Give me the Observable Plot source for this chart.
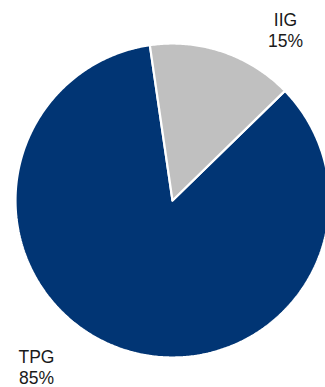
<!DOCTYPE html>
<html>
<head>
<meta charset="utf-8">
<script src="https://cdn.jsdelivr.net/npm/d3@7"></script>
<script src="https://cdn.jsdelivr.net/npm/@observablehq/plot@0.6"></script>
<style>
  html, body { margin: 0; padding: 0; background: #fff; overflow: hidden; }
  #chart svg { display: block; overflow: hidden; }
</style>
</head>
<body>
<div id="chart"></div>
<script>
// Data
const categories = ["TPG", "IIG"];
const shares = [85, 15];
const valueLabels = ["85%", "15%"];
const colors = ["#013574", "#c0c0c0"];

// Layout (style, not data)
const startDeg = 45.7; // where the first slice begins, clockwise from 12 o'clock

const pie = d3.pie().sort(null).value(d => d.value)
  .startAngle(startDeg * Math.PI / 180)
  .endAngle(startDeg * Math.PI / 180 + 2 * Math.PI);
const slices = pie(categories.map((c, i) => ({name: c, value: shares[i], label: valueLabels[i]})));

// polygon points for each wedge
const pts = [];
for (const s of slices) {
  const n = Math.max(2, Math.ceil((s.endAngle - s.startAngle) / 0.01));
  pts.push({name: s.data.name, x: 0, y: 0});
  for (let k = 0; k <= n; k++) {
    const a = s.startAngle + (s.endAngle - s.startAngle) * k / n;
    pts.push({name: s.data.name, x: Math.sin(a), y: Math.cos(a)});
  }
  pts.push({name: s.data.name, x: 0, y: 0});
}

const labelPts = slices.map(s => {
  const m = (s.startAngle + s.endAngle) / 2;
  return {name: s.data.name, text: s.data.name + "\n" + s.data.label, x: Math.sin(m), y: Math.cos(m)};
});

const textStyle = {
  x: "x", y: "y", text: "text",
  fontSize: 17.5, lineHeight: 1.2, lineAnchor: "middle", textAnchor: "middle",
  fill: "#1a1a1a", fontFamily: "Liberation Sans, Arial, sans-serif"
};

const chart = Plot.plot({
  width: 325,
  height: 387,
  marginLeft: 15,
  marginRight: -4,
  marginTop: 43,
  marginBottom: 30,
  x: {domain: [-1, 1], axis: null},
  y: {domain: [-1, 1], axis: null},
  color: {domain: categories, range: colors},
  style: {background: "#fff", fontFamily: "Liberation Sans, Arial, sans-serif"},
  marks: [
    Plot.line(pts, {x: "x", y: "y", z: "name", fill: "name", stroke: "#fff", strokeWidth: 2.2, strokeLinejoin: "miter", curve: "linear"}),
    Plot.text(labelPts.filter(d => d.name === "IIG"), {...textStyle, dx: 62.7, dy: -21.6}),
    Plot.text(labelPts.filter(d => d.name === "TPG"), {...textStyle, dx: -85.7, dy: 17.8})
  ]
});
document.getElementById("chart").appendChild(chart);
</script>
</body>
</html>
